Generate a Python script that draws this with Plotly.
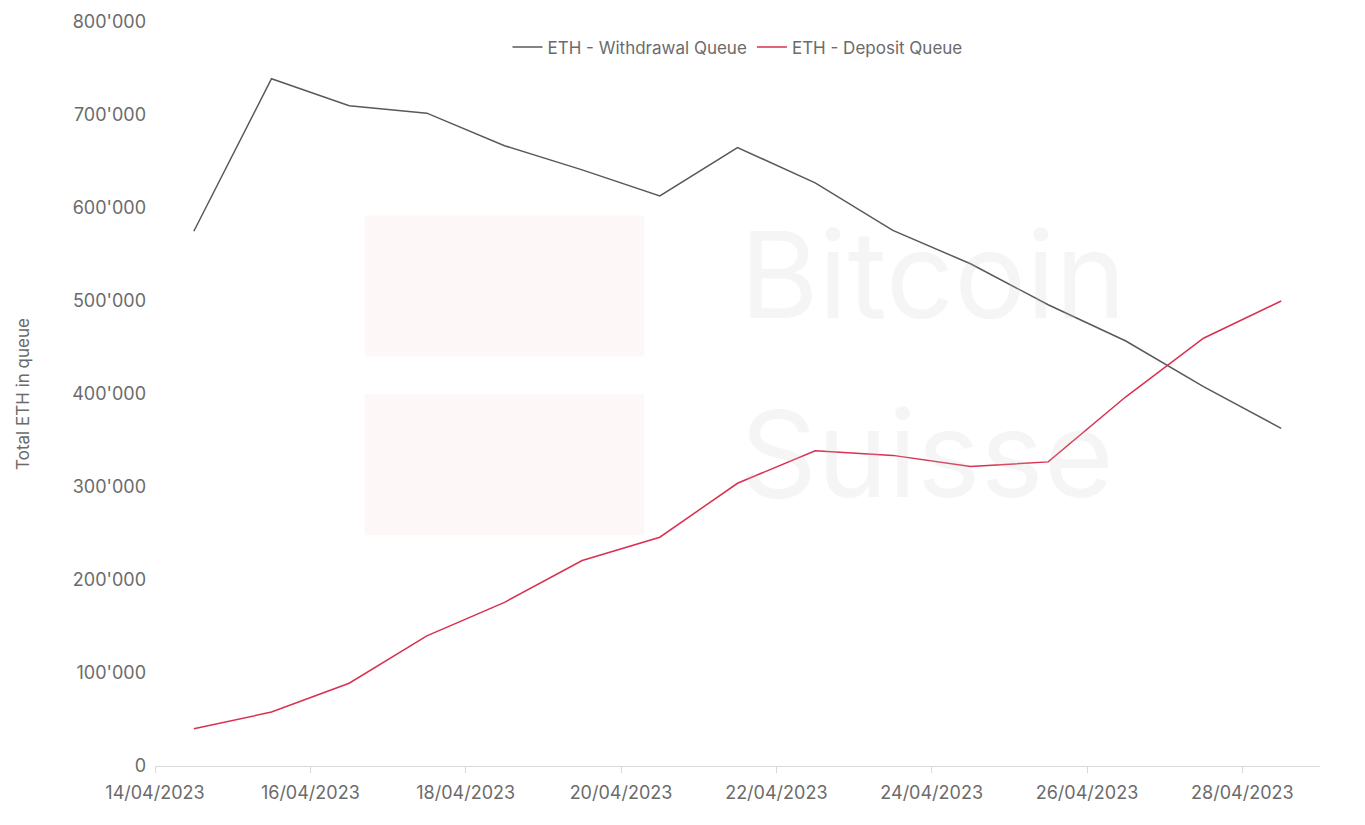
import plotly.graph_objects as go
import pandas as pd

dates = pd.date_range("2023-04-14 12:00", periods=15, freq="D")
withdrawal = [575000, 739000, 710000, 702000, 667000, 641000, 613000, 665000, 627000, 576000, 540000, 496000, 457000, 408000, 363000]
deposit = [40000, 58000, 89000, 140000, 176000, 221000, 246000, 304000, 339000, 334000, 322000, 327000, 397000, 460000, 500000]
tick_dates = pd.date_range("2023-04-14", "2023-04-28", freq="2D")

fig = go.Figure()
fig.add_trace(go.Scatter(x=dates, y=withdrawal, mode="lines", name="ETH - Withdrawal Queue",
                         line=dict(color="#595959", width=1.5)))
fig.add_trace(go.Scatter(x=dates, y=deposit, mode="lines", name="ETH - Deposit Queue",
                         line=dict(color="#d9304f", width=1.5)))

# watermark
fig.add_annotation(x=0.50, y=0.66, xref="paper", yref="paper", text="Bitcoin", showarrow=False,
                   xanchor="left", font=dict(size=120, color="rgba(200,200,200,0.18)", family="Inter"))
fig.add_annotation(x=0.50, y=0.42, xref="paper", yref="paper", text="Suisse", showarrow=False,
                   xanchor="left", font=dict(size=120, color="rgba(200,200,200,0.18)", family="Inter"))
for (x0, y0, x1, y1) in [(0.18, 0.55, 0.42, 0.74), (0.18, 0.31, 0.42, 0.50)]:
    fig.add_shape(type="rect", xref="paper", yref="paper", x0=x0, y0=y0, x1=x1, y1=y1,
                  fillcolor="rgba(230,60,80,0.04)", line=dict(width=0), layer="below")

fig.update_layout(
    width=1365, height=825, plot_bgcolor="white", paper_bgcolor="white",
    separators=".'",
    font=dict(family="Inter, Noto Sans", color="#6b6b6b", size=18),
    margin=dict(l=147, r=53, t=14, b=67, autoexpand=False),
    legend=dict(orientation="h", x=0.5, xanchor="center", y=0.99, yanchor="top",
                font=dict(size=17), bgcolor="rgba(0,0,0,0)"),
    xaxis=dict(range=["2023-04-14", "2023-04-29"], tickvals=tick_dates,
               ticktext=[d.strftime("%d/%m/%Y") for d in tick_dates],
               showgrid=False, showline=True, linecolor="#d9d9d9", ticks="outside",
               tickcolor="#d9d9d9", ticklen=6, automargin=False, ticklabelstandoff=4),
    yaxis=dict(range=[0, 800000], dtick=100000, tickformat=",", showgrid=False,
               zeroline=False, automargin=False, ticklabelstandoff=8,
               title=dict(text="Total ETH in queue", font=dict(size=17), standoff=38)),
)
fig.write_html("out.html")
